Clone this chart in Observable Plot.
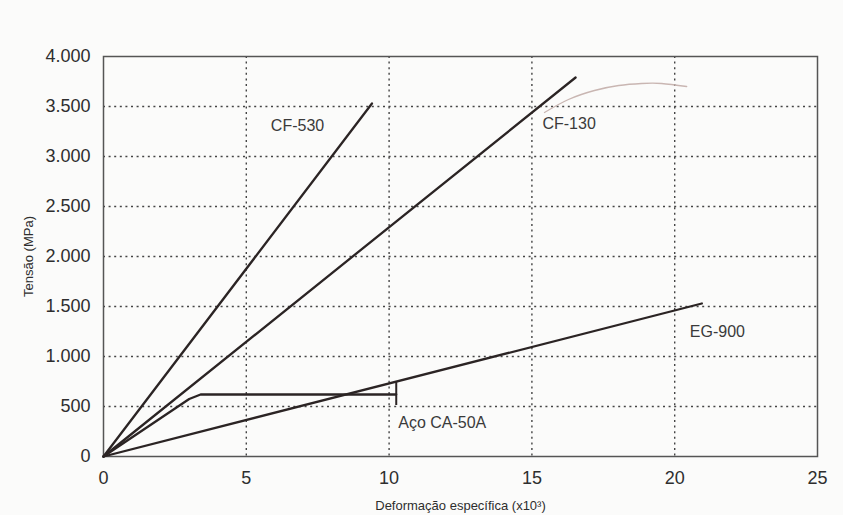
<!DOCTYPE html>
<html><head><meta charset="utf-8">
<script src="https://cdn.jsdelivr.net/npm/d3@7"></script>
<script src="https://cdn.jsdelivr.net/npm/@observablehq/plot@0.6"></script>
<style>body{margin:0;background:#fbfbfa}</style>
</head><body><div id="chart"></div>
<script>
// Data (strain x10^3, stress MPa)
const cf530X = [0, 9.4];
const cf530Y = [0, 3530];
const cf130X = [0, 16.53];
const cf130Y = [0, 3790];
const eg900X = [0, 20.95];
const eg900Y = [0, 1530];
const steelX = [0, 3.0, 3.4, 10.25];
const steelY = [0, 575, 620, 620];
const steelEndX = 10.25, steelEndLow = 510, steelEndHigh = 750;
const faintX = [15.44, 16.28, 17.19, 18.04, 18.84, 19.54, 20.42];
const faintY = [3440, 3570, 3660, 3710, 3730, 3730, 3700];
const xTicks = [0, 5, 10, 15, 20, 25];
const yTicks = [0, 500, 1000, 1500, 2000, 2500, 3000, 3500, 4000];
const labelNames = ["CF-530", "CF-130", "EG-900", "Aço CA-50A"];
const labelX = [5.86, 15.37, 20.53, 10.32];
const labelY = [3310, 3325, 1250, 340];

const toRows = (name, xs, ys) => xs.map((x, i) => ({series: name, x, y: ys[i]}));
const lines = [
  ...toRows("CF-530", cf530X, cf530Y),
  ...toRows("CF-130", cf130X, cf130Y),
  ...toRows("EG-900", eg900X, eg900Y),
  ...toRows("Aço CA-50A", steelX, steelY)
];
const faint = toRows("faint", faintX, faintY);
const labels = labelNames.map((t, i) => ({t, x: labelX[i], y: labelY[i]}));
const fmt = d => d3.format(",")(d).replace(/,/g, ".");

const dot = "2,3.6";
const chart = Plot.plot({
  width: 843, height: 515,
  marginLeft: 103, marginRight: 26, marginTop: 56, marginBottom: 59,
  style: {fontFamily: "'Liberation Sans', Arial, sans-serif", background: "#fbfbfa", color: "#2e2e2e"},
  x: {domain: [0, 25]},
  y: {domain: [0, 4000]},
  marks: [
    Plot.gridX(xTicks.slice(1, -1), {stroke: "#444", strokeOpacity: 1, strokeWidth: 1.4, strokeDasharray: dot}),
    Plot.gridY(yTicks.slice(1, -1), {stroke: "#444", strokeOpacity: 1, strokeWidth: 1.4, strokeDasharray: dot}),
    Plot.axisX(xTicks, {tickSize: 0, tickPadding: 15, fontSize: 18, tickFormat: d => String(d),
      label: "Deformação específica (x10³)", labelAnchor: "center", labelArrow: "none", labelOffset: 53}),
    Plot.axisY(yTicks, {tickSize: 0, tickPadding: 13, fontSize: 18, tickFormat: fmt,
      label: "Tensão (MPa)", labelAnchor: "center", labelArrow: "none", labelOffset: 80}),
    Plot.frame({stroke: "#555", strokeWidth: 1.5}),
    Plot.line(faint, {x: "x", y: "y", curve: "natural", stroke: "#c9b6b2", strokeWidth: 1.3}),
    Plot.line(lines, {x: "x", y: "y", z: "series", stroke: "#2b2424", strokeWidth: 2.3}),
    Plot.ruleX([steelEndX], {y1: steelEndLow, y2: steelEndHigh, stroke: "#2b2424", strokeWidth: 2}),
    Plot.text(labels, {x: "x", y: "y", text: "t", textAnchor: "start", fontSize: 16, fill: "#3a3a3a"})
  ]
});
chart.querySelectorAll("g[aria-label='x-axis label'] text, g[aria-label='y-axis label'] text").forEach(t => t.setAttribute("font-size", 13));
document.getElementById("chart").appendChild(chart);
</script>
</body></html>
